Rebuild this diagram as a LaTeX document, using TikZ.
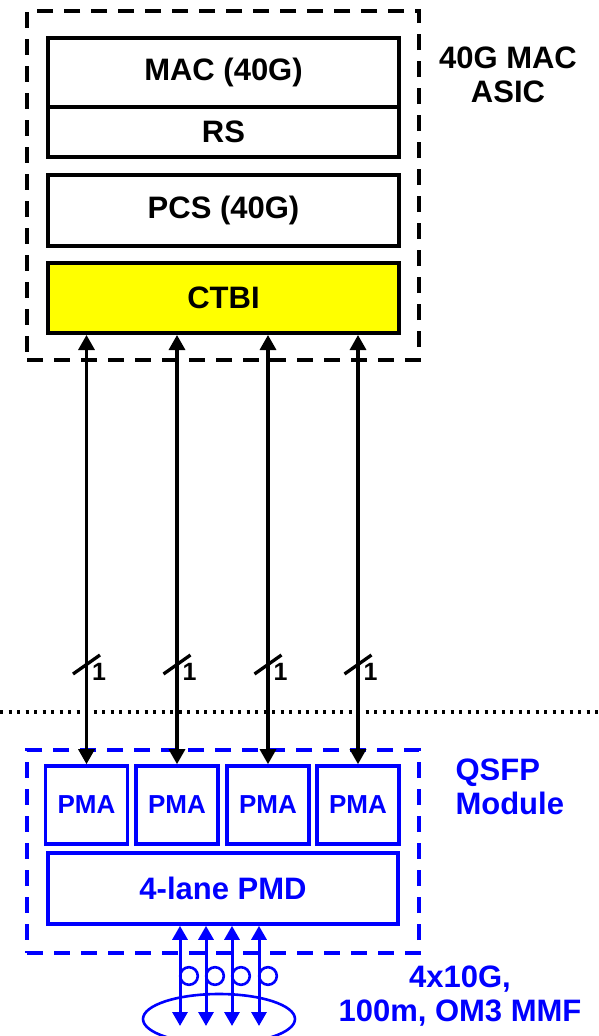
\documentclass[tikz,border=0pt]{standalone}
\usepackage{fontspec}
\setmainfont{Liberation Sans}
\usetikzlibrary{arrows.meta}
\definecolor{qsfpblue}{RGB}{0,0,255}
\definecolor{ctbiyellow}{RGB}{255,255,0}
\newcommand{\bigtxt}{\fontsize{31}{34}\selectfont\bfseries}
\newcommand{\pmatxt}{\fontsize{26}{30}\selectfont\bfseries}
\newcommand{\lanetxt}{\fontsize{25}{28}\selectfont\bfseries}

\begin{document}
\begin{tikzpicture}[x=1pt,y=-1pt,
  layer/.style={draw,line width=4pt,minimum width=351pt,inner sep=0pt,font=\bigtxt},
  asicdash/.style={draw,line width=3.2pt,dash pattern=on 16pt off 11pt,inner sep=0pt},
  qsfpdash/.style={asicdash,draw=qsfpblue},
  pmabox/.style={draw=qsfpblue,text=qsfpblue,line width=3.6pt,minimum width=82pt,minimum height=78pt,inner sep=0pt,font=\pmatxt},
  lane/.style={line width=3.2pt,{Triangle[length=15pt,width=16pt]}-{Triangle[length=15pt,width=16pt]}},
  fiber/.style={qsfpblue,line width=3pt,{Triangle[length=14pt,width=15pt]}-{Triangle[length=14pt,width=15pt]}},
  loop/.style={qsfpblue,line width=2.6pt}]
  \useasboundingbox (0,0) rectangle (599,1036);
  % 40G MAC ASIC
  \node[asicdash,minimum width=392pt,minimum height=349pt] (asic) at (223,185.5) {};
  \node[layer,minimum height=69pt] (mac) at (223.5,72.5) {MAC (40G)};
  \node[layer,minimum height=50pt] (rs) at (223.5,132) {RS};
  \node[layer,minimum height=71pt] (pcs) at (223.5,210.5) {PCS (40G)};
  \node[layer,minimum height=70pt,fill=ctbiyellow] (ctbi) at (223.5,298) {CTBI};
  \node[font=\bigtxt,align=center] (asiclbl) at (508,75) {40G MAC\\ASIC};
  % boundary
  \draw[line width=3.2pt,dash pattern=on 3pt off 5.5pt] (0,712) -- (599,712);
  % QSFP module
  \node[qsfpdash,minimum width=392pt,minimum height=203pt] (qsfp) at (223,851.5) {};
  \node[pmabox] (pma1) at (86.5,805) {PMA};
  \node[pmabox] (pma2) at (177,805) {PMA};
  \node[pmabox] (pma3) at (268,805) {PMA};
  \node[pmabox] (pma4) at (358,805) {PMA};
  \node[pmabox,minimum width=350pt,minimum height=71pt,font=\bigtxt] (pmd) at (223,888.5) {4-lane PMD};
  \node[font=\bigtxt,text=qsfpblue,align=left,anchor=west] (qsfplbl) at (452,787) {QSFP\\Module};
  % CTBI lanes
  \draw[lane] (pma1.north |- ctbi.south) -- (pma1.north);
  \draw[lane] (pma2.north |- ctbi.south) -- (pma2.north);
  \draw[lane] (pma3.north |- ctbi.south) -- (pma3.north);
  \draw[lane] (pma4.north |- ctbi.south) -- (pma4.north);
  \draw[line width=3.3pt] (73,674) -- (100,655);  \node[font=\lanetxt] (l1) at (99,672) {1};
  \draw[line width=3.3pt] (163.5,674) -- (190.5,655);  \node[font=\lanetxt] (l2) at (189.5,672) {1};
  \draw[line width=3.3pt] (254.5,674) -- (281.5,655);  \node[font=\lanetxt] (l3) at (280.5,672) {1};
  \draw[line width=3.3pt] (344.5,674) -- (371.5,655);  \node[font=\lanetxt] (l4) at (370.5,672) {1};
  % fibers
  \coordinate (f1) at (180,1026);
  \coordinate (f2) at (206,1026);
  \coordinate (f3) at (232,1026);
  \coordinate (f4) at (259,1026);
  \draw[fiber] (pmd.south -| f1) -- (f1);
  \draw[fiber] (pmd.south -| f2) -- (f2);
  \draw[fiber] (pmd.south -| f3) -- (f3);
  \draw[fiber] (pmd.south -| f4) -- (f4);
  \draw[loop] (189,976) circle (8.8pt);
  \draw[loop] (215,976) circle (8.8pt);
  \draw[loop] (241,976) circle (8.8pt);
  \draw[loop] (268,976) circle (8.8pt);
  \draw[loop] (219,1019) ellipse (76pt and 25pt);
  \node[font=\bigtxt,text=qsfpblue,align=center] (fiberlbl) at (460,996) {4x10G,\\100m, OM3 MMF};
\end{tikzpicture}
\end{document}
